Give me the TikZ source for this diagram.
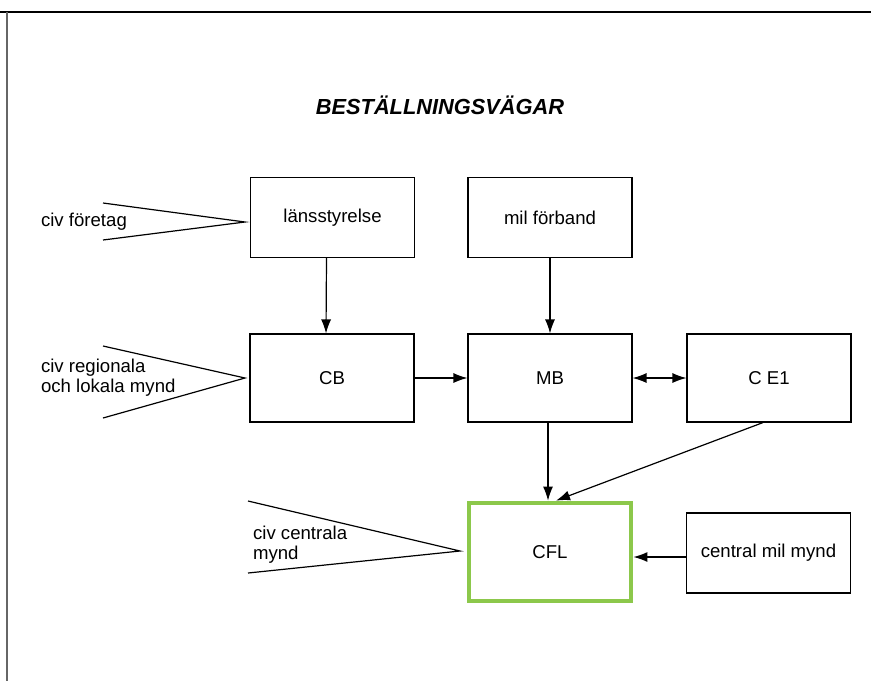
\documentclass[tikz,border=0pt]{standalone}
\usepackage{fontspec}
\setmainfont{Liberation Sans}
\usetikzlibrary{arrows.meta}

\definecolor{cflgreen}{RGB}{140,200,75}

\begin{document}
\begin{tikzpicture}[x=0.5pt, y=-0.5pt,
    every node/.style = {font=\fontsize{9.3}{10}\selectfont},
    box/.style = {draw, line width=0.55pt, minimum width=82pt, minimum height=40pt, inner sep=0pt},
    arr/.style = {line width=0.6pt, -{Latex[length=7pt, width=5pt]}},
    wedge/.style = {line width=0.6pt}]
    \useasboundingbox (0, 0) rectangle (871, 681);
%    frame of the page
    \draw [line width=0.7pt] (0, 12) -- (505, 12);
    \draw [line width=1.1pt] (505, 12) -- (871, 12);
    \draw [line width=0.8pt, black!60] (7, 12) -- (7, 681);

    \node (title) at (440, 105) {\fontsize{10.9}{12}\selectfont\bfseries\itshape BESTÄLLNINGSVÄGAR};

    \node [box] (lans) at (332.5, 217.5) {länsstyrelse};
    \node [box] (milf) at (550, 217.5) {mil förband};
    \node [box, minimum height=44pt] (cb) at (332, 378) {CB};
    \node [box, minimum height=44pt] (mb) at (550, 378) {MB};
    \node [box, minimum height=44pt] (ce) at (769, 378) {C E1};
    \node [box, draw=cflgreen, line width=2.4pt, minimum width=81pt, minimum height=49pt] (cfl) at (550, 552) {CFL};
    \node [box] (cmm) at (768.5, 553) {central mil mynd};

%    incoming wedges
    \coordinate (w1a) at (103, 203);
    \coordinate (w1b) at (103, 240);
    \coordinate (w1) at (245, 222);
    \coordinate (w2a) at (103, 346);
    \coordinate (w2b) at (103, 418);
    \coordinate (w2) at (245, 378);
    \coordinate (w3a) at (248, 501);
    \coordinate (w3b) at (248, 573);
    \coordinate (w3) at (460, 551);
    \foreach \w in {1, 2, 3} {
      \draw [wedge] (w\w a) -- (w\w) -- (w\w b);
    }
    \node [anchor=west] (civf) at (34, 222) {civ företag};
    \node [anchor=west, align=left] (civr) at (34, 378) {civ regionala\\och lokala mynd};
    \node [anchor=west, align=left] (civc) at (246, 545) {civ centrala\\mynd};

    \draw [arr] ([xshift=-3pt]lans.south) -- ([xshift=-3pt]cb.north);
    \draw [arr] (milf.south) -- (mb.north);
    \draw [arr] (cb.east) -- (mb.west);
    \draw [{Latex[length=7pt, width=5pt]}-{Latex[length=7pt, width=5pt]}, line width=0.6pt] (mb.east) -- (ce.west);
    \draw [arr] ([xshift=-1pt]mb.south) -- ([xshift=-1pt]cfl.north);
    \draw [arr] ([xshift=-3pt]ce.south) -- ([xshift=3pt]cfl.north);
    \draw [arr] ([yshift=-2pt]cmm.west) -- ([yshift=-2pt]cmm.west -| cfl.east);
  \end{tikzpicture}
\end{document}
